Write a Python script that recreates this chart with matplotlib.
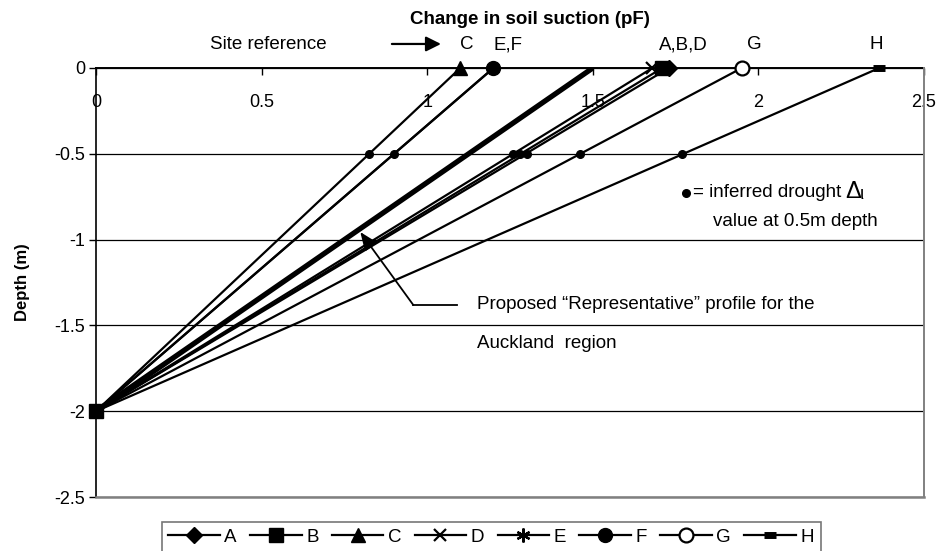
import matplotlib.pyplot as plt

plt.rcParams['font.family'] = ['Liberation Sans', 'DejaVu Sans']

# Change in suction at the surface for each site, all profiles run to zero at 2 m
sites = ['A', 'B', 'C', 'D', 'E', 'F', 'G', 'H']
surface_du = [1.73, 1.71, 1.10, 1.68, 1.20, 1.20, 1.95, 2.365]
base_depth = -2.0
base_du = 0.0

# Inferred drought values at 0.5 m depth
dot_du = [0.825, 0.90, 1.26, 1.28, 1.30, 1.46, 1.77]
dot_depth = -0.5

# Proposed representative profile
rep_du = [1.5, 0.0]
rep_depth = [0.0, -2.0]

# Site reference labels along the top
site_groups = ['C', 'E,F', 'A,B,D', 'G', 'H']
site_group_x = [1.118, 1.245, 1.773, 1.988, 2.356]

markers = {
    'A': dict(marker='D', ms=8, mfc='black'),
    'B': dict(marker='s', ms=10, mfc='black'),
    'C': dict(marker='^', ms=10, mfc='black'),
    'D': dict(marker='x', ms=9, mew=1.6),
    'E': dict(marker=(6, 2, 0), ms=10, mew=1.6),
    'F': dict(marker='o', ms=10, mfc='black'),
    'G': dict(marker='o', ms=10, mfc='white', mew=1.6),
    'H': dict(marker='_', ms=8, mew=5),
}

fig = plt.figure(figsize=(9.38, 5.51), dpi=100)
ax = fig.add_axes([0.1024, 0.098, 0.8826, 0.7786])

for s, x0 in zip(sites, surface_du):
    ax.plot([x0, base_du], [0, base_depth], color='black', lw=1.6, markevery=[0],
            clip_on=False, zorder=3, label=s, mec='black', **markers[s])

# the common base point, where the B square sits on top of the others
ax.plot([base_du], [base_depth], 's', color='black', ms=10, clip_on=False, zorder=5)

ax.plot(rep_du, rep_depth, color='black', lw=3.8, solid_capstyle='butt', zorder=3)

ax.plot(dot_du, [dot_depth] * len(dot_du), 'o', color='black', ms=5.5, zorder=4)

ax.set_xlim(0, 2.5)
ax.set_ylim(-2.5, 0)
ax.set_xticks([0, 0.5, 1, 1.5, 2, 2.5])
ax.set_xticklabels(['0', '0.5', '1', '1.5', '2', '2.5'])
ax.set_yticks([0, -0.5, -1, -1.5, -2, -2.5])
ax.set_yticklabels(['0', '-0.5', '-1', '-1.5', '-2', '-2.5'])
ax.tick_params(axis='x', top=True, bottom=False, labeltop=True, labelbottom=False,
               direction='in', length=5, width=1, pad=-19, labelsize=13)
ax.tick_params(axis='y', direction='out', length=5, width=1, labelsize=13, pad=3)
for lbl in ax.get_xticklabels():
    lbl.set_verticalalignment('top')

ax.grid(axis='y', color='black', lw=0.9)
ax.spines['top'].set_color('black')
ax.spines['top'].set_linewidth(1.4)
ax.spines['top'].set_zorder(2)
ax.spines['left'].set_color('black')
ax.spines['left'].set_linewidth(1.2)
ax.spines['right'].set_color('#808080')
ax.spines['right'].set_linewidth(1.4)
ax.spines['bottom'].set_color('#808080')
ax.spines['bottom'].set_linewidth(1.8)

# Title and site labels above the axis
ax.text(1.31, 0.28, 'Change in soil suction (pF)', fontsize=13.5, fontweight='bold',
        ha='center', va='center', clip_on=False)
ax.text(0.52, 0.134, 'Site reference', fontsize=13.5, ha='center', va='center', clip_on=False)
ax.annotate('', xy=(1.05, 0.14), xytext=(0.885, 0.14), annotation_clip=False,
            arrowprops=dict(arrowstyle='-|>,head_length=0.9,head_width=0.45',
                            color='black', lw=1.6))
for lab, x in zip(site_groups, site_group_x):
    ax.text(x, 0.134, lab, fontsize=13.5, ha='center', va='center', clip_on=False)

fig.text(0.024, 1 - 282 / 551, 'Depth (m)', fontsize=12, fontweight='bold',
         rotation=90, ha='center', va='center')

# Note for the 0.5 m dots
ax.plot([1.782], [-0.728], 'o', color='black', ms=5.5)
ax.text(1.803, -0.728, '= inferred drought ', fontsize=13.5, va='center')
ax.text(2.262, -0.72, 'Δ', fontsize=17, va='center')
ax.text(2.305, -0.74, 'ι', fontsize=13.5, va='center')
ax.text(1.864, -0.897, 'value at 0.5m depth', fontsize=13.5, va='center')

# Pointer to the representative profile
ax.plot([1.09, 0.958], [-1.381, -1.381], color='black', lw=1.3)
ax.annotate('', xy=(0.798, -0.956), xytext=(0.958, -1.381),
            arrowprops=dict(arrowstyle='-|>,head_length=1.1,head_width=0.45',
                            color='black', lw=1.3, shrinkA=0, shrinkB=0))
ax.text(1.151, -1.381, 'Proposed \u201cRepresentative\u201d profile for the',
        fontsize=13.5, va='center')
ax.text(1.151, -1.603, 'Auckland  region', fontsize=13.5, va='center')

leg = ax.legend(loc='upper center', bbox_to_anchor=(491 / 938, 1 - 522 / 551),
                bbox_transform=fig.transFigure, ncol=8, frameon=True, fancybox=False,
                fontsize=13.5, handlelength=2.75, handletextpad=0.25, columnspacing=0.7,
                borderpad=0.35, borderaxespad=0, markerscale=1.0)
leg.get_frame().set_edgecolor('#555555')
leg.get_frame().set_linewidth(1.2)

fig.savefig('out.png', dpi=100)
